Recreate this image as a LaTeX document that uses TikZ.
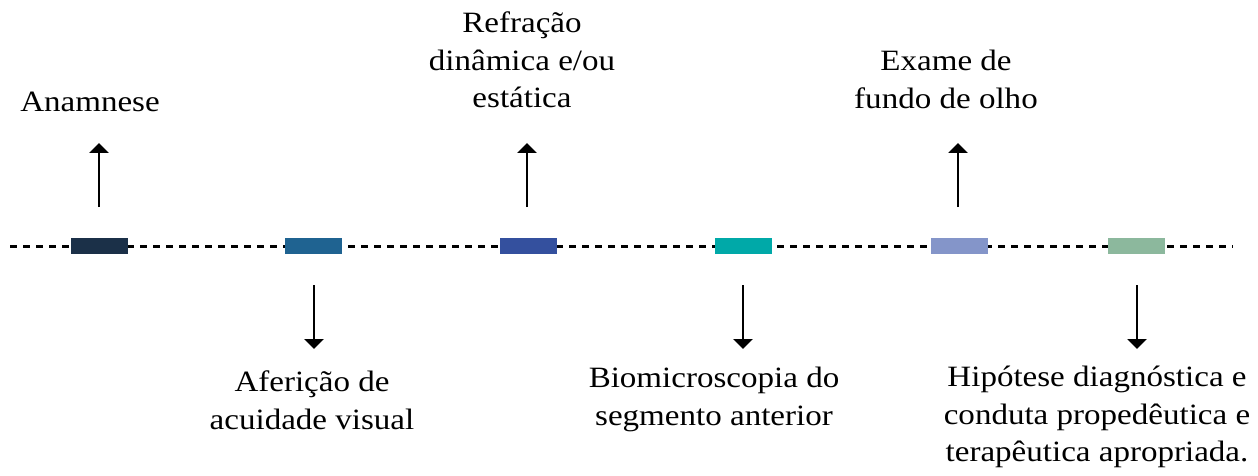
\documentclass[tikz,border=0pt]{standalone}
\usepackage{fontspec}
\setmainfont{Liberation Serif}[FakeStretch=1.12]
\usetikzlibrary{arrows.meta}
\definecolor{c1}{HTML}{1B3048}
\definecolor{c2}{HTML}{1F6391}
\definecolor{c3}{HTML}{34509E}
\definecolor{c4}{HTML}{00A9A8}
\definecolor{c5}{HTML}{8495C9}
\definecolor{c6}{HTML}{8CB89D}
\begin{document}
\begin{tikzpicture}[x=1pt,y=-1pt,
  mark box/.style={draw=none,inner sep=0pt,minimum width=57pt,minimum height=16pt},
  lbl/.style={inner sep=0pt,align=center,font=\fontsize{29.5}{37.5}\selectfont},
  arr/.style={line width=2.2pt,-{Triangle[length=10pt,width=19pt]}},
  timeline/.style={line width=3pt,dash pattern=on 7pt off 6pt}]
\useasboundingbox (0,0) rectangle (1258,476);
\coordinate (ls) at (10,246);
\coordinate (le) at (1233,246);
\draw[timeline] (ls) -- (le);
\node[mark box,fill=c1] (r1) at (99.5,246) {};
\node[mark box,fill=c2] (r2) at (313.5,246) {};
\node[mark box,fill=c3] (r3) at (528.5,246) {};
\node[mark box,fill=c4] (r4) at (743.5,246) {};
\node[mark box,fill=c5] (r5) at (959.5,246) {};
\node[mark box,fill=c6] (r6) at (1136.5,246) {};
% labels
\node[lbl,anchor=base] (t1) at (90,112) {Anamnese};
\node[lbl,anchor=north] (t3) at (522,12) {Refração\\dinâmica e/ou\\estática};
\node[lbl,anchor=north] (t5) at (946,50) {Exame de\\fundo de olho};
\node[lbl,anchor=north] (t2) at (312,371) {Aferição de\\acuidade visual};
\node[lbl,anchor=north] (t4) at (714,367) {Biomicroscopia do\\segmento anterior};
\node[lbl,anchor=north] (t6) at (1097,366) {Hipótese diagnóstica e\\conduta propedêutica e\\terapêutica apropriada.};
% arrow end points
\coordinate (a1s) at (99,207);  \coordinate (a1e) at (99,143);
\coordinate (a3s) at (527,207); \coordinate (a3e) at (527,143);
\coordinate (a5s) at (958,207); \coordinate (a5e) at (958,143);
\coordinate (a2s) at (314,285); \coordinate (a2e) at (314,349);
\coordinate (a4s) at (743,285); \coordinate (a4e) at (743,349);
\coordinate (a6s) at (1137,285); \coordinate (a6e) at (1137,349);
\draw[arr] (a1s) -- (a1e);
\draw[arr] (a3s) -- (a3e);
\draw[arr] (a5s) -- (a5e);
\draw[arr] (a2s) -- (a2e);
\draw[arr] (a4s) -- (a4e);
\draw[arr] (a6s) -- (a6e);
\end{tikzpicture}
\end{document}
